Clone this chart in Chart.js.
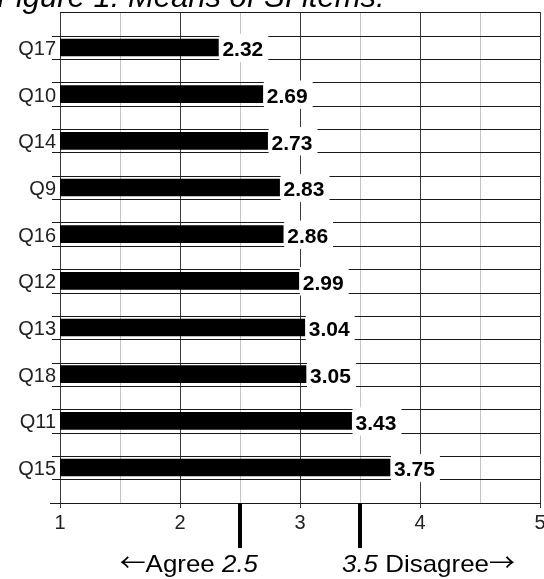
<!DOCTYPE html>
<html><head><meta charset="utf-8">
<script src="https://cdn.jsdelivr.net/npm/chart.js@4/dist/chart.umd.min.js"></script>
<style>html,body{margin:0;padding:0;background:#fff;overflow:hidden}#wrap{width:544px;height:579px;position:relative}</style>
</head><body><div id="wrap"><canvas id="c" width="544" height="579"></canvas></div>
<script>
const titleText = 'Figure 1. Means of SI items.';
const categories = ['Q17','Q10','Q14','Q9','Q16','Q12','Q13','Q18','Q11','Q15'];
const means = [2.32, 2.69, 2.73, 2.83, 2.86, 2.99, 3.04, 3.05, 3.43, 3.75];
const xTickLabels = ['1','2','3','4','5'];
const markerValues = [2.5, 3.5];
const leftNote = ['\u2190', 'Agree ', '2.5'];
const rightNote = ['3.5', ' Disagree', '\u2192'];

const FONT = '"Liberation Sans", Arial, sans-serif';
const ARROW_FONT = '24px "Noto Sans CJK JP", "DejaVu Sans", sans-serif';
const NOTE_SCALE = 1.08;

const deco = {
  id: 'deco',
  beforeDatasetsDraw(chart) {
    const {ctx, chartArea: a, scales: {y}} = chart;
    const meta = chart.getDatasetMeta(0);
    const pitch = Math.abs(y.getPixelForValue(1) - y.getPixelForValue(0));
    ctx.save();
    ctx.strokeStyle = '#1a1a1a';
    ctx.lineWidth = 1;
    ctx.beginPath();
    meta.data.forEach(bar => {
      [-1, 1].forEach(s => {
        const yy = Math.round(bar.y + s * pitch / 4) + 0.5;
        ctx.moveTo(a.left - 8, yy); ctx.lineTo(a.right, yy);
      });
    });
    ctx.moveTo(a.left, a.top + 0.5); ctx.lineTo(a.right, a.top + 0.5);
    ctx.moveTo(a.left - 10, a.bottom + 0.5); ctx.lineTo(a.left, a.bottom + 0.5);
    ctx.stroke();
    ctx.restore();
  },
  afterDatasetsDraw(chart) {
    const {ctx, scales: {y}} = chart;
    const meta = chart.getDatasetMeta(0);
    const pitch = Math.abs(y.getPixelForValue(1) - y.getPixelForValue(0));
    ctx.save();
    ctx.font = 'bold 21px ' + FONT;
    ctx.textBaseline = 'middle';
    ctx.textAlign = 'left';
    meta.data.forEach((bar, i) => {
      const txt = means[i].toFixed(2);
      const w = ctx.measureText(txt).width;
      ctx.fillStyle = '#fff';
      ctx.fillRect(bar.x + 1, bar.y - pitch / 4 - 2, w + 8, pitch / 2 + 5);
      ctx.fillStyle = '#000';
      ctx.fillText(txt, bar.x + 4, bar.y + 3);
    });
    ctx.restore();
  },
  afterDraw(chart) {
    const {ctx, chartArea: a, scales: {x}} = chart;
    ctx.save();
    ctx.fillStyle = '#000';
    const px = markerValues.map(v => x.getPixelForValue(v));
    px.forEach(p => ctx.fillRect(Math.round(p) - 2, a.bottom, 4, 45));
    ctx.textBaseline = 'alphabetic';
    ctx.textAlign = 'left';
    const base = 572;
    const fonts = [ARROW_FONT, '24px ' + FONT, 'italic 24px ' + FONT];
    const widths = leftNote.map((t, i) => { ctx.font = fonts[i]; return ctx.measureText(t).width; });
    ctx.save();
    ctx.translate(px[0] + 18, 0);
    ctx.scale(NOTE_SCALE, 1);
    let cx = -widths.reduce((s, w) => s + w, 0);
    leftNote.forEach((t, i) => { ctx.font = fonts[i]; ctx.fillText(t, cx, base + (i === 0 ? -1 : 0)); cx += widths[i]; });
    ctx.restore();
    const fontsR = ['italic 24px ' + FONT, '24px ' + FONT, ARROW_FONT];
    ctx.save();
    ctx.translate(px[1] - 18, 0);
    ctx.scale(NOTE_SCALE, 1);
    cx = 0;
    rightNote.forEach((t, i) => { ctx.font = fontsR[i]; ctx.fillText(t, cx, base + (i === 2 ? -1 : 0)); cx += ctx.measureText(t).width; });
    ctx.restore();
    ctx.font = 'italic 31px ' + FONT;
    ctx.fillText(titleText, -3, 7);
    ctx.restore();
  }
};

new Chart(document.getElementById('c'), {
  type: 'bar',
  data: {
    datasets: [{
      data: means.map((v, i) => ({x: v, y: i})),
      backgroundColor: '#000',
      borderWidth: 0,
      barThickness: 17
    }]
  },
  options: {
    indexAxis: 'y',
    responsive: false,
    animation: false,
    devicePixelRatio: 1,
    layout: {padding: {top: 12, right: 4, left: 0, bottom: 0}},
    plugins: {legend: {display: false}, tooltip: {enabled: false}, title: {display: false}},
    scales: {
      x: {
        type: 'linear', min: 1, max: 5,
        position: 'bottom',
        ticks: {
          stepSize: 0.5, autoSkip: false, maxRotation: 0, padding: 3,
          color: '#222', font: {family: FONT, size: 20},
          callback: v => Number.isInteger(v) ? xTickLabels[v - 1] : ''
        },
        grid: {
          color: c => (c.tick && Number.isInteger(c.tick.value)) ? '#3a3a3a' : '#c4c4c4',
          tickColor: c => (c.tick && Number.isInteger(c.tick.value)) ? '#3a3a3a' : 'rgba(0,0,0,0)',
          tickLength: 5, lineWidth: 1
        },
        border: {display: true, color: '#1a1a1a', width: 1},
        afterFit: s => { s.height = 76; s.paddingLeft = 0; s.paddingRight = 0; }
      },
      y: {
        type: 'linear', min: -0.76, max: 9.76, reverse: true, offset: false,
        afterBuildTicks: s => { s.ticks = categories.map((c, i) => ({value: i})); },
        ticks: {
          autoSkip: false, padding: 4, color: '#222', labelOffset: 2,
          font: {family: FONT, size: 20},
          callback: v => categories[v] ?? ''
        },
        grid: {display: false, drawTicks: false, offset: false},
        border: {display: false},
        afterFit: s => { s.width = 60; s.paddingTop = 0; s.paddingBottom = 0; }
      }
    }
  },
  plugins: [deco]
});
</script>
</body></html>
